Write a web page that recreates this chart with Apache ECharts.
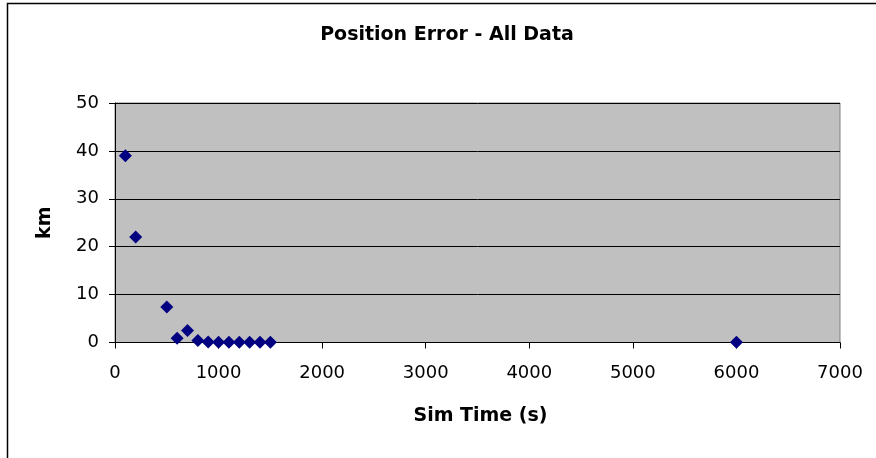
<!DOCTYPE html>
<html><head><meta charset="utf-8">
<script src="https://cdn.jsdelivr.net/npm/echarts@6/dist/echarts.min.js"></script>
<style>html,body{margin:0;padding:0;background:#fff}#c{width:876px;height:458px}</style>
</head><body><div id="c"></div>
<script>
var simTime = [100, 200, 500, 600, 700, 800, 900, 1000, 1100, 1200, 1300, 1400, 1500, 6000];
var errorKm = [39, 22, 7.4, 0.9, 2.5, 0.4, 0.1, 0.05, 0.05, 0.05, 0.05, 0.05, 0.05, 0.05];
var titleText = 'Position Error - All Data';
var xName = 'Sim Time (s)';
var yName = 'km';

var chart = echarts.init(document.getElementById('c'), null, {renderer: 'canvas'});
var font = '"DejaVu Sans", sans-serif';
chart.setOption({
  animation: false,
  backgroundColor: '#fff',
  title: {text: titleText, left: 442, top: 21, textAlign: 'center',
    textStyle: {fontFamily: font, fontSize: 19, fontWeight: 'bold', color: '#000'}},
  grid: {left: 115, top: 103, width: 725, height: 239.5, show: true,
    backgroundColor: '#C0C0C0', borderColor: '#808080', borderWidth: 1},
  xAxis: {type: 'value', min: 0, max: 7000, interval: 1000,
    name: xName, nameLocation: 'middle', nameGap: 64,
    nameTextStyle: {fontFamily: font, fontSize: 19, fontWeight: 'bold', color: '#000', padding: [0, 0, 0, 6]},
    axisLine: {show: true, onZero: false, lineStyle: {color: '#000', width: 1}},
    axisTick: {show: true, inside: false, length: 6, lineStyle: {color: '#000'}},
    axisLabel: {fontFamily: font, fontSize: 18, color: '#000', margin: 22,
      formatter: function (v) { return String(v); }},
    splitLine: {show: false}},
  yAxis: {type: 'value', min: 0, max: 50, interval: 10,
    name: yName, nameLocation: 'middle', nameGap: 60, nameRotate: 90,
    nameTextStyle: {fontFamily: font, fontSize: 19, fontWeight: 'bold', color: '#000'},
    axisLine: {show: true, lineStyle: {color: '#000', width: 1}},
    axisTick: {show: true, inside: false, length: 6, lineStyle: {color: '#000'}},
    axisLabel: {fontFamily: font, fontSize: 18, color: '#000', margin: 16,
      formatter: function (v) { return String(v); }},
    splitLine: {show: true, lineStyle: {color: '#000', width: 1}}},
  series: [{type: 'scatter', symbol: 'diamond', symbolSize: 13,
    itemStyle: {color: '#000080', opacity: 1},
    data: simTime.map(function (t, i) { return [t, errorKm[i]]; })}],
  graphic: [
    {type: 'polyline', silent: true, shape: {points: [[7.5, 458], [7.5, 3.5], [876, 3.5]]},
     style: {stroke: '#000', lineWidth: 1.5, fill: null}}
  ]
});
</script></body></html>
